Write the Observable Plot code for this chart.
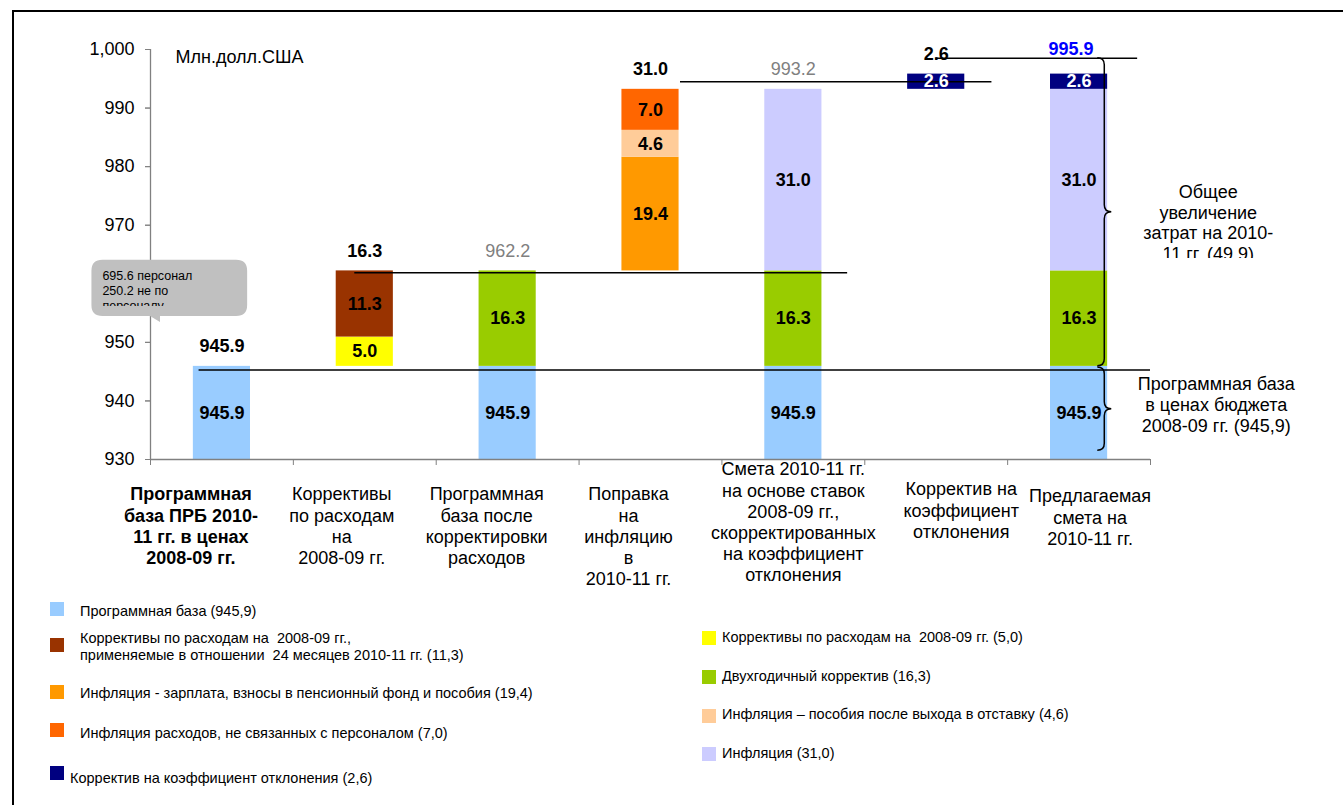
<!DOCTYPE html>
<html><head><meta charset="utf-8">
<script src="https://cdn.jsdelivr.net/npm/d3@7"></script>
<script src="https://cdn.jsdelivr.net/npm/@observablehq/plot@0.6"></script>
<style>
body{margin:0;background:#fff;overflow:hidden;font-family:"Liberation Sans",Arial,sans-serif;}
#frame{position:absolute;left:12px;top:10px;width:1400px;height:900px;border-top:2px solid #000;border-left:2px solid #000;z-index:5;pointer-events:none;}
#chart{position:absolute;left:0;top:0;}
.lt{position:absolute;font-size:14.5px;color:#000;line-height:17px;white-space:pre;transform:translateY(-50%);}
.sw{position:absolute;width:14px;height:14px;transform:translateY(-50%);}
</style></head><body>
<div id="frame"></div>
<div id="chart"></div>
<div id="legend"></div>
<script>
// ---------- DATA ----------
const categories = [
  "Программная\nбаза ПРБ 2010-\n11 гг. в ценах\n2008-09 гг.",
  "Коррективы\nпо расходам\nна\n2008-09 гг.",
  "Программная\nбаза после\nкорректировки\nрасходов",
  "Поправка\nна\nинфляцию\nв\n2010-11 гг.",
  "Смета 2010-11 гг.\nна основе ставок\n2008-09 гг.,\nскорректированных\nна коэффициент\nотклонения",
  "Корректив на\nкоэффициент\nотклонения",
  "Предлагаемая\nсмета на\n2010-11 гг."
];
const seriesKeys = ["base","adj5","adj11","biennial","infl194","infl46","infl70","infl31","vac"];
const seriesColors = ["#99CCFF","#FFFF00","#993300","#99CC00","#FF9900","#FFCC99","#FF6600","#CCCCFF","#000080"];
const seriesNames = [
  "Программная база (945,9)",
  "Коррективы по расходам на  2008-09 гг. (5,0)",
  "Коррективы по расходам на  2008-09 гг.,\nприменяемые в отношении  24 месяцев 2010-11 гг. (11,3)",
  "Двухгодичный корректив (16,3)",
  "Инфляция - зарплата, взносы в пенсионный фонд и пособия (19,4)",
  "Инфляция – пособия после выхода в отставку (4,6)",
  "Инфляция расходов, не связанных с персоналом (7,0)",
  "Инфляция (31,0)",
  "Корректив на коэффициент отклонения (2,6)"
];
const segCategory = [0, 1, 1, 2, 2, 3, 3, 3, 4, 4, 4, 5, 6, 6, 6, 6];
const segSeries   = ["base","adj5","adj11","base","biennial","infl194","infl46","infl70","base","biennial","infl31","vac","base","biennial","infl31","vac"];
const segValue    = [945.9, 5.0, 11.3, 945.9, 16.3, 19.4, 4.6, 7.0, 945.9, 16.3, 31.0, 2.6, 945.9, 16.3, 31.0, 2.6];
const floatBase   = [0, 945.9, 0, 962.2, 0, 993.2, 0];
const topLabels   = ["945.9","16.3","962.2","31.0","993.2","2.6","995.9"];
const topLabelKind= ["bold","bold","grey","bold","grey","bold","blue"];
const yTicks = [930, 940, 950, 960, 970, 980, 990, 1000];
const yTickHidden = [960]; // label covered by the callout in the original
const unitLabel = "Млн.долл.США";
const calloutLines = ["695.6 персонал", "250.2 не по", "персоналу"];
// connector lines: level (value) and span in category units
const connectorLevel = [945.3, 961.9, 994.5, 998.5];
const connectorFrom  = [0.34, 1.43, 3.71, 5.5];
const connectorTo    = [7.0, 4.88, 5.89, 6.91];
const braceTop    = [998.5, 945.7];
const braceBottom = [945.9, 931.5];
const braceText = [
  ["Общее","увеличение","затрат на 2010-","11 гг. (49.9)"],
  ["Программная база","в ценах бюджета","2008-09 гг. (945,9)"]
];

// ---------- LAYOUT (label offsets in px, as placed in the original) ----------
const catLabelDx = [-31, -23, -21, -22, 0, 25, 11];
const catLabelDy = [26, 26, 26, 26, 1, 21, 28];

// ---------- DERIVED ----------
const cum = floatBase.slice();
const segs = segValue.map((v, i) => {
  const c = segCategory[i];
  const y1 = cum[c]; cum[c] += v;
  return {c, key: segSeries[i], v, y1, y2: cum[c]};
});
const tops = topLabels.map((t, i) => ({c: i, t, kind: topLabelKind[i], y: cum[i]}));
const yMin = yTicks[0], yMax = yTicks[yTicks.length - 1];
const connectors = connectorLevel.map((l, i) => ({y: l, x1: connectorFrom[i], x2: connectorTo[i]}));
const cats = categories.map((c, i) => ({i, c}));
const FONT = "Liberation Sans, Arial, sans-serif";
const fmtY = d3.format(",");

function braceMark(k) {
  return (index, scales) => {
    const x = scales.x, y = scales.y;
    const g = d3.create("svg:g");
    const x0 = x(6.68), yt = y(braceTop[k]), yb = y(braceBottom[k]), ym = (yt + yb) / 2;
    const r = 7, tip = 7;
    const p = `M${x0-r},${yt} Q${x0},${yt} ${x0},${yt+r} L${x0},${ym-r} Q${x0},${ym} ${x0+tip},${ym} Q${x0},${ym} ${x0},${ym+r} L${x0},${yb-r} Q${x0},${yb} ${x0-r},${yb}`;
    g.append("path").attr("d", p).attr("fill", "none").attr("stroke", "#000").attr("stroke-width", 1.5);
    const lines = braceText[k];
    const lh = 20.7;
    const cx = x0 + (k === 0 ? 104 : 112);
    const cy = k === 0 ? ym + 11 : ym - 4;
    const y0 = cy - (lines.length - 1) * lh / 2;
    const id = "bclip" + k;
    if (k === 0) {
      g.append("clipPath").attr("id", id).append("rect")
        .attr("x", cx - 120).attr("y", y0 - 20).attr("width", 240).attr("height", (lines.length - 1) * lh + 24);
    }
    const t = g.append("text").attr("text-anchor", "middle").attr("font-size", 18).attr("font-family", FONT).attr("fill", "#000");
    if (k === 0) t.attr("clip-path", `url(#${id})`);
    lines.forEach((s, j) => t.append("tspan").attr("x", cx).attr("y", y0 + j * lh).attr("dy", "0.35em").text(s));
    return g.node();
  };
}

function calloutMark(index, scales) {
  const x = scales.x, y = scales.y;
  const g = d3.create("svg:g");
  const X1 = x(-0.41), X2 = x(0.68), Y1 = y(964.0), Y2 = y(954.4);
  const r = 11;
  const px = x(0.07);
  const p = `M${X1+r},${Y1} L${X2-r},${Y1} Q${X2},${Y1} ${X2},${Y1+r} L${X2},${Y2-r} Q${X2},${Y2} ${X2-r},${Y2} L${px},${Y2} L${px},${Y2+6} L${px-10},${Y2} L${X1+r},${Y2} Q${X1},${Y2} ${X1},${Y2-r} L${X1},${Y1+r} Q${X1},${Y1} ${X1+r},${Y1} Z`;
  g.append("path").attr("d", p).attr("fill", "#C0C0C0");
  g.append("clipPath").attr("id", "cclip").append("rect")
    .attr("x", X1).attr("y", Y1).attr("width", X2 - X1).attr("height", Y2 - Y1 - 10);
  const t = g.append("text").attr("text-anchor", "start").attr("font-size", 12.5).attr("font-family", FONT).attr("fill", "#000").attr("clip-path", "url(#cclip)");
  calloutLines.forEach((s, j) => t.append("tspan").attr("x", X1 + 11).attr("y", Y1 + 15.5 + j * 15.2).attr("dy", "0.35em").text(s));
  return g.node();
}

const catMarks = cats.map(d => Plot.text([d], {
  x: e => e.i + 0.5, y: yMin, text: "c", lineAnchor: "top",
  dx: catLabelDx[d.i], dy: catLabelDy[d.i], lineHeight: 1.17, fontSize: 18,
  fontWeight: d.i === 0 ? "bold" : "normal", fill: "#000"
}));

const plot = Plot.plot({
  width: 1343,
  height: 600,
  marginLeft: 150,
  marginRight: 193,
  marginTop: 49,
  marginBottom: 141,
  style: {fontFamily: FONT, background: "transparent", overflow: "visible"},
  x: {domain: [0, 7], axis: null},
  y: {domain: [yMin, yMax], axis: null},
  color: {domain: seriesKeys, range: seriesColors},
  marks: [
    Plot.rectY(segs, {x1: d => d.c + 0.3, x2: d => d.c + 0.7, y1: "y1", y2: "y2", fill: "key", clip: true}),
    // axes
    Plot.ruleX([0], {y1: yMin, y2: yMax, stroke: "#808080", strokeWidth: 1.3}),
    Plot.ruleY([yMin], {x1: 0, x2: 7, stroke: "#808080", strokeWidth: 1.3}),
    Plot.axisY({ticks: yTicks, tickFormat: () => "", tickSize: 5, stroke: "#808080"}),
    Plot.axisY({ticks: yTicks.filter(t => !yTickHidden.includes(t)), tickFormat: fmtY, tickSize: 5, tickPadding: 11, fontSize: 18, stroke: "#808080", color: "#000"}),
    Plot.axisX({ticks: d3.range(0, 8), tickFormat: () => "", tickSize: 6, stroke: "#808080"}),
    // connectors
    Plot.ruleY(connectors, {y: "y", x1: "x1", x2: "x2", stroke: "#000", strokeWidth: 1.5}),
    // segment labels
    Plot.text(segs.filter(d => d.key !== "vac"), {x: d => d.c + 0.5, y: d => (Math.max(d.y1, yMin) + d.y2) / 2, text: d => d.v.toFixed(1), fontSize: 18, fontWeight: "bold", fill: "#000"}),
    Plot.text(segs.filter(d => d.key === "vac"), {x: d => d.c + 0.5, y: d => (Math.max(d.y1, yMin) + d.y2) / 2, text: d => d.v.toFixed(1), fontSize: 18, fontWeight: "bold", fill: "#fff"}),
    // top labels
    Plot.text(tops.filter(d => d.kind === "bold"), {x: d => d.c + 0.5, y: "y", text: "t", dy: -20, fontSize: 18, fontWeight: "bold", fill: "#000"}),
    Plot.text(tops.filter(d => d.kind === "grey"), {x: d => d.c + 0.5, y: "y", text: "t", dy: -20, fontSize: 18, fill: "#808080"}),
    Plot.text(tops.filter(d => d.kind === "blue"), {x: d => d.c + 0.5, y: "y", text: "t", dy: -25, dx: -8, fontSize: 18, fontWeight: "bold", fill: "#0000FF"}),
    // unit label
    Plot.text([unitLabel], {x: 0.175, y: yMax, text: d => d, dy: 8, textAnchor: "start", fontSize: 18, fill: "#000"}),
    // category labels
    ...catMarks,
    calloutMark,
    braceMark(0),
    braceMark(1)
  ]
});
document.getElementById("chart").appendChild(plot);

// ---------- LEGEND ----------
const legendLayout = [
  {key: "base",    sx: 50,  tx: 80, sy: 609, ty: 611},
  {key: "adj11",   sx: 50,  tx: 80, sy: 645, ty: 647},
  {key: "infl194", sx: 50,  tx: 80, sy: 692, ty: 693},
  {key: "infl70",  sx: 50,  tx: 80, sy: 730, ty: 733},
  {key: "vac",     sx: 50,  tx: 70, sy: 773, ty: 778},
  {key: "adj5",    sx: 702, tx: 722, sy: 638, ty: 637},
  {key: "biennial",sx: 702, tx: 722, sy: 677, ty: 676},
  {key: "infl46",  sx: 702, tx: 722, sy: 716, ty: 714},
  {key: "infl31",  sx: 702, tx: 722, sy: 754, ty: 753}
];
const leg = document.getElementById("legend");
legendLayout.forEach(L => {
  const i = seriesKeys.indexOf(L.key);
  const s = document.createElement("div");
  s.className = "sw"; s.style.left = L.sx + "px"; s.style.top = L.sy + "px"; s.style.background = seriesColors[i];
  const t = document.createElement("div");
  t.className = "lt"; t.style.left = L.tx + "px"; t.style.top = L.ty + "px"; t.textContent = seriesNames[i];
  leg.appendChild(s); leg.appendChild(t);
});
</script>
</body></html>
